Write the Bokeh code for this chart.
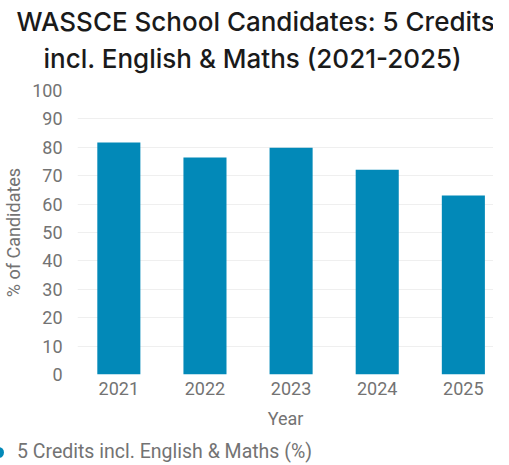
from bokeh.plotting import figure
from bokeh.models import Range1d, FixedTicker, Title, ColumnDataSource, Div
from bokeh.layouts import column
from bokeh.embed import file_html
from bokeh.resources import INLINE

years = [2021, 2022, 2023, 2024, 2025]
pct_5_credits = [81.7, 76.4, 79.8, 72.1, 63.0]
y_ticks = [0, 10, 20, 30, 40, 50, 60, 70, 80, 90, 100]
series_label = "5 Credits incl. English &amp; Maths (%)"
title_line1 = "WASSCE School Candidates: 5 Credits"
title_line2 = "incl. English & Maths (2021-2025)"

BAR = "#0289b8"
GRAY = "#737373"

src = ColumnDataSource(dict(year=years, pct=pct_5_credits))

p = figure(width=493, height=432, output_backend="svg", toolbar_location=None,
           x_range=Range1d(2020.52, 2025.35), y_range=Range1d(0, 100),
           min_border_left=70, min_border_right=0, min_border_top=0, min_border_bottom=58)
p.outline_line_color = None
p.background_fill_color = "white"

p.vbar(x="year", top="pct", width=0.5, source=src, color=BAR, line_color=None)

# titles (spacer first, closest to the plot frame)
spacer = Title(text=" ", text_font_size="10px", standoff=3)
t2 = Title(text=title_line2, align="left", offset=-34, text_font="Inter Medium",
           text_font_size="26px", text_font_style="normal", text_color="#1a1a1a", standoff=2)
t1 = Title(text=title_line1, align="left", offset=-61, text_font="Inter Medium",
           text_font_size="26px", text_font_style="normal", text_color="#1a1a1a", standoff=6)
p.add_layout(spacer, "above")
p.add_layout(t2, "above")
p.add_layout(t1, "above")

# axes
for ax in (p.xaxis[0], p.yaxis[0]):
    ax.axis_line_color = None
    ax.major_tick_line_color = None
    ax.minor_tick_line_color = None
    ax.major_tick_out = 0
    ax.major_tick_in = 0
    ax.minor_tick_out = 0
    ax.minor_tick_in = 0
    ax.major_label_text_font = "Roboto"
    ax.major_label_text_font_size = "18px"
    ax.major_label_text_color = GRAY
    ax.axis_label_text_font = "Roboto"
    ax.axis_label_text_font_size = "18px"
    ax.axis_label_text_font_style = "normal"
    ax.axis_label_text_color = GRAY

p.xaxis.ticker = FixedTicker(ticks=years)
p.xaxis.axis_label = "Year"
p.xaxis.major_label_standoff = 7
p.xaxis.axis_label_standoff = 10
p.yaxis.ticker = FixedTicker(ticks=y_ticks)
p.yaxis.axis_label = "% of Candidates"
p.yaxis.major_label_standoff = 15
p.yaxis.axis_label_standoff = 5

p.xgrid.grid_line_color = None
p.ygrid.grid_line_color = "#efefef"
p.ygrid.grid_line_width = 1

legend_html = (
    '<div style="display:flex;align-items:center;height:24px;margin-left:-12px;'
    'padding-top:6px;font-family:Roboto;font-size:19.5px;color:%s;white-space:nowrap;">'
    '<span style="display:inline-block;width:11px;height:11px;border-radius:50%%;'
    'background:%s;margin-right:13px;"></span>%s</div>' % (GRAY, BAR, series_label)
)
legend_div = Div(text=legend_html, width=493, height=17,
                 styles={"overflow": "visible"})

layout = column(p, legend_div, spacing=0)

open("out.html", "w").write(file_html(layout, INLINE))
